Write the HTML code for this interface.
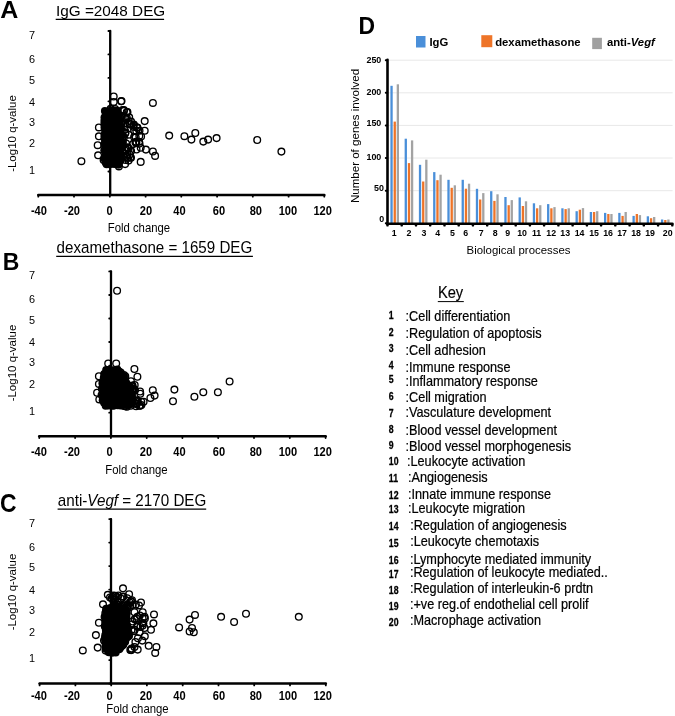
<!DOCTYPE html><html><head><meta charset="utf-8"><style>html,body{margin:0;padding:0;background:#fff;overflow:hidden;}svg{display:block;filter:blur(0.3px);}text{font-family:"Liberation Sans", sans-serif;fill:#000;}</style></head><body>
<svg width="675" height="716" viewBox="0 0 675 716">
<rect width="675" height="716" fill="#fff"/>
<g stroke="#000" stroke-linecap="round" fill="none">
<line x1="110.2" y1="30.8" x2="110.2" y2="194.9" stroke-width="2.3"/>
<line x1="38.3" y1="194.9" x2="324.3" y2="194.9" stroke-width="2.5"/>
<line x1="108.4" y1="194.9" x2="110.2" y2="194.9" stroke-width="1.8"/>
<line x1="108.4" y1="171.5" x2="110.2" y2="171.5" stroke-width="1.8"/>
<line x1="108.4" y1="148.1" x2="110.2" y2="148.1" stroke-width="1.8"/>
<line x1="108.4" y1="124.7" x2="110.2" y2="124.7" stroke-width="1.8"/>
<line x1="108.4" y1="101.3" x2="110.2" y2="101.3" stroke-width="1.8"/>
<line x1="108.4" y1="77.9" x2="110.2" y2="77.9" stroke-width="1.8"/>
<line x1="108.4" y1="54.4" x2="110.2" y2="54.4" stroke-width="1.8"/>
<line x1="108.4" y1="31.0" x2="110.2" y2="31.0" stroke-width="1.8"/>
<line x1="38.3" y1="194.9" x2="38.3" y2="196.70000000000002" stroke-width="1.8"/>
<line x1="74.0" y1="194.9" x2="74.0" y2="196.70000000000002" stroke-width="1.8"/>
<line x1="109.8" y1="194.9" x2="109.8" y2="196.70000000000002" stroke-width="1.8"/>
<line x1="145.6" y1="194.9" x2="145.6" y2="196.70000000000002" stroke-width="1.8"/>
<line x1="181.3" y1="194.9" x2="181.3" y2="196.70000000000002" stroke-width="1.8"/>
<line x1="217.1" y1="194.9" x2="217.1" y2="196.70000000000002" stroke-width="1.8"/>
<line x1="252.8" y1="194.9" x2="252.8" y2="196.70000000000002" stroke-width="1.8"/>
<line x1="288.6" y1="194.9" x2="288.6" y2="196.70000000000002" stroke-width="1.8"/>
<line x1="324.3" y1="194.9" x2="324.3" y2="196.70000000000002" stroke-width="1.8"/>
</g>
<text transform="translate(29.0,39.2) scale(0.9346,1)" font-size="11.66" font-weight="normal" text-anchor="start" >7</text>
<text transform="translate(29.0,62.7) scale(0.9346,1)" font-size="11.66" font-weight="normal" text-anchor="start" >6</text>
<text transform="translate(29.0,84) scale(0.9346,1)" font-size="11.66" font-weight="normal" text-anchor="start" >5</text>
<text transform="translate(29.0,106) scale(0.9346,1)" font-size="11.66" font-weight="normal" text-anchor="start" >4</text>
<text transform="translate(29.0,126.2) scale(0.9346,1)" font-size="11.66" font-weight="normal" text-anchor="start" >3</text>
<text transform="translate(29.0,147.1) scale(0.9346,1)" font-size="11.66" font-weight="normal" text-anchor="start" >2</text>
<text transform="translate(29.0,174.4) scale(0.9346,1)" font-size="11.66" font-weight="normal" text-anchor="start" >1</text>
<text transform="translate(38.9,214.6) scale(0.9174,1)" font-size="12.1" font-weight="bold" text-anchor="middle" >-40</text>
<text transform="translate(72,214.6) scale(0.9174,1)" font-size="12.1" font-weight="bold" text-anchor="middle" >-20</text>
<text transform="translate(109.5,214.6) scale(0.9174,1)" font-size="12.1" font-weight="bold" text-anchor="middle" >0</text>
<text transform="translate(146,214.6) scale(0.9174,1)" font-size="12.1" font-weight="bold" text-anchor="middle" >20</text>
<text transform="translate(179.5,214.6) scale(0.9174,1)" font-size="12.1" font-weight="bold" text-anchor="middle" >40</text>
<text transform="translate(218.9,214.6) scale(0.9174,1)" font-size="12.1" font-weight="bold" text-anchor="middle" >60</text>
<text transform="translate(255.8,214.6) scale(0.9174,1)" font-size="12.1" font-weight="bold" text-anchor="middle" >80</text>
<text transform="translate(287.9,214.6) scale(0.9174,1)" font-size="12.1" font-weight="bold" text-anchor="middle" >100</text>
<text transform="translate(322.7,214.6) scale(0.9174,1)" font-size="12.1" font-weight="bold" text-anchor="middle" >120</text>
<text transform="translate(107.69999999999999,231.9) scale(0.9434,1)" font-size="12.03" font-weight="normal" text-anchor="start" >Fold change</text>
<text transform="translate(15.8,133.5) rotate(-90)" font-size="11.5" text-anchor="middle">-Log10 q-value</text>
<polygon points="105,111 110,110.5 115,110.5 118,111 119,118 120,128 121,138 120.5,150 119.5,160 118,164.5 112,164.5 106,164.5 105,162 105,150 105,130 105,118" fill="#000" />
<g fill="#000">
<circle cx="104.9" cy="111.1" r="4.0"/>
<circle cx="110.7" cy="110.4" r="4.0"/>
<circle cx="115.0" cy="110.6" r="4.0"/>
<circle cx="117.5" cy="111.0" r="4.0"/>
<circle cx="118.7" cy="115.0" r="4.0"/>
<circle cx="118.4" cy="117.7" r="4.0"/>
<circle cx="118.7" cy="121.8" r="4.0"/>
<circle cx="120.0" cy="123.9" r="4.0"/>
<circle cx="120.8" cy="128.7" r="4.0"/>
<circle cx="120.6" cy="131.5" r="4.0"/>
<circle cx="120.1" cy="133.9" r="4.0"/>
<circle cx="121.0" cy="137.3" r="4.0"/>
<circle cx="120.4" cy="140.6" r="4.0"/>
<circle cx="120.0" cy="143.9" r="4.0"/>
<circle cx="120.5" cy="147.5" r="4.0"/>
<circle cx="120.5" cy="150.2" r="4.0"/>
<circle cx="120.2" cy="153.6" r="4.0"/>
<circle cx="119.8" cy="156.3" r="4.0"/>
<circle cx="120.3" cy="160.8" r="4.0"/>
<circle cx="118.5" cy="164.8" r="4.0"/>
<circle cx="114.7" cy="164.1" r="4.0"/>
<circle cx="111.7" cy="163.8" r="4.0"/>
<circle cx="109.4" cy="164.3" r="4.0"/>
<circle cx="106.6" cy="164.3" r="4.0"/>
<circle cx="105.7" cy="162.6" r="4.0"/>
<circle cx="104.2" cy="158.5" r="4.0"/>
<circle cx="105.7" cy="156.0" r="4.0"/>
<circle cx="105.8" cy="152.8" r="4.0"/>
<circle cx="104.3" cy="150.2" r="4.0"/>
<circle cx="105.4" cy="146.8" r="4.0"/>
<circle cx="104.3" cy="144.0" r="4.0"/>
<circle cx="105.7" cy="141.8" r="4.0"/>
<circle cx="104.4" cy="138.2" r="4.0"/>
<circle cx="104.4" cy="135.0" r="4.0"/>
<circle cx="105.5" cy="132.3" r="4.0"/>
<circle cx="105.1" cy="129.9" r="4.0"/>
<circle cx="104.5" cy="127.4" r="4.0"/>
<circle cx="104.4" cy="124.2" r="4.0"/>
<circle cx="104.4" cy="120.9" r="4.0"/>
<circle cx="104.5" cy="117.6" r="4.0"/>
<circle cx="105.8" cy="115.0" r="4.0"/>
</g>
<g fill="none" stroke="#000" stroke-width="1.35">
<circle cx="118.9" cy="166.4" r="3.35"/>
<circle cx="110.6" cy="108.8" r="3.35"/>
<circle cx="121.1" cy="145.1" r="3.35"/>
<circle cx="122.6" cy="137.4" r="3.35"/>
<circle cx="103.6" cy="160.0" r="3.35"/>
<circle cx="119.3" cy="120.3" r="3.35"/>
<circle cx="115.1" cy="109.0" r="3.35"/>
<circle cx="121.9" cy="130.6" r="3.35"/>
<circle cx="125.5" cy="123.2" r="3.35"/>
<circle cx="137.2" cy="127.4" r="3.35"/>
<circle cx="127.2" cy="112.3" r="3.35"/>
<circle cx="122.9" cy="142.4" r="3.35"/>
<circle cx="126.1" cy="143.5" r="3.35"/>
<circle cx="128.8" cy="134.7" r="3.35"/>
<circle cx="141.1" cy="136.5" r="3.35"/>
<circle cx="124.8" cy="117.1" r="3.35"/>
<circle cx="126.2" cy="119.2" r="3.35"/>
<circle cx="125.1" cy="164.1" r="3.35"/>
<circle cx="139.5" cy="143.6" r="3.35"/>
<circle cx="126.0" cy="149.6" r="3.35"/>
<circle cx="126.4" cy="156.6" r="3.35"/>
<circle cx="133.5" cy="125.3" r="3.35"/>
<circle cx="124.7" cy="150.5" r="3.35"/>
<circle cx="122.4" cy="121.5" r="3.35"/>
<circle cx="133.9" cy="124.5" r="3.35"/>
<circle cx="121.3" cy="123.9" r="3.35"/>
<circle cx="124.7" cy="129.8" r="3.35"/>
<circle cx="128.6" cy="160.6" r="3.35"/>
<circle cx="135.5" cy="142.5" r="3.35"/>
<circle cx="123.9" cy="110.1" r="3.35"/>
<circle cx="131.1" cy="151.1" r="3.35"/>
<circle cx="122.6" cy="140.2" r="3.35"/>
<circle cx="136.5" cy="149.5" r="3.35"/>
<circle cx="128.4" cy="148.4" r="3.35"/>
<circle cx="129.8" cy="154.6" r="3.35"/>
<circle cx="139.1" cy="141.8" r="3.35"/>
<circle cx="134.1" cy="130.6" r="3.35"/>
<circle cx="133.2" cy="143.9" r="3.35"/>
<circle cx="122.7" cy="145.7" r="3.35"/>
<circle cx="136.3" cy="130.9" r="3.35"/>
<circle cx="136.4" cy="142.3" r="3.35"/>
<circle cx="130.3" cy="157.5" r="3.35"/>
<circle cx="122.8" cy="152.3" r="3.35"/>
<circle cx="121.6" cy="143.5" r="3.35"/>
<circle cx="131.1" cy="121.6" r="3.35"/>
<circle cx="135.7" cy="137.3" r="3.35"/>
<circle cx="127.3" cy="148.0" r="3.35"/>
<circle cx="125.3" cy="118.0" r="3.35"/>
<circle cx="127.9" cy="147.3" r="3.35"/>
<circle cx="125.2" cy="133.4" r="3.35"/>
<circle cx="139.5" cy="130.7" r="3.35"/>
<circle cx="133.2" cy="126.7" r="3.35"/>
<circle cx="123.9" cy="137.3" r="3.35"/>
<circle cx="126.8" cy="118.0" r="3.35"/>
<circle cx="130.5" cy="124.2" r="3.35"/>
<circle cx="125.5" cy="132.4" r="3.35"/>
<circle cx="134.1" cy="137.1" r="3.35"/>
<circle cx="127.6" cy="157.5" r="3.35"/>
<circle cx="122.6" cy="109.9" r="3.35"/>
<circle cx="135.9" cy="141.7" r="3.35"/>
<circle cx="127.5" cy="154.7" r="3.35"/>
<circle cx="121.4" cy="116.0" r="3.35"/>
<circle cx="124.0" cy="110.8" r="3.35"/>
<circle cx="152.9" cy="102.9" r="3.35"/>
<circle cx="144.7" cy="121.1" r="3.35"/>
<circle cx="144.7" cy="130.7" r="3.35"/>
<circle cx="169.2" cy="135.6" r="3.35"/>
<circle cx="184.4" cy="136.2" r="3.35"/>
<circle cx="195.3" cy="133.0" r="3.35"/>
<circle cx="191.4" cy="139.6" r="3.35"/>
<circle cx="203.3" cy="141.6" r="3.35"/>
<circle cx="208.1" cy="139.6" r="3.35"/>
<circle cx="216.6" cy="138.1" r="3.35"/>
<circle cx="257.2" cy="140.0" r="3.35"/>
<circle cx="281.4" cy="151.6" r="3.35"/>
<circle cx="140.7" cy="161.9" r="3.35"/>
<circle cx="145.9" cy="149.6" r="3.35"/>
<circle cx="152.9" cy="151.5" r="3.35"/>
<circle cx="155.1" cy="155.9" r="3.35"/>
<circle cx="140.7" cy="147.8" r="3.35"/>
<circle cx="139.3" cy="135.9" r="3.35"/>
<circle cx="126.7" cy="112.2" r="3.35"/>
<circle cx="121.5" cy="101.1" r="3.35"/>
<circle cx="129.6" cy="124.0" r="3.35"/>
<circle cx="137.5" cy="127.8" r="3.35"/>
<circle cx="81.4" cy="161.2" r="3.35"/>
<circle cx="113.7" cy="96.5" r="3.35"/>
<circle cx="113.7" cy="101.9" r="3.35"/>
<circle cx="121.1" cy="101.3" r="3.35"/>
<circle cx="127.4" cy="112.0" r="3.35"/>
<circle cx="129.2" cy="117.3" r="3.35"/>
<circle cx="129.8" cy="123.8" r="3.35"/>
<circle cx="136.9" cy="127.4" r="3.35"/>
<circle cx="131.0" cy="157.7" r="3.35"/>
<circle cx="125.6" cy="160.0" r="3.35"/>
<circle cx="98.9" cy="127.4" r="3.35"/>
<circle cx="98.9" cy="136.3" r="3.35"/>
<circle cx="97.7" cy="145.2" r="3.35"/>
<circle cx="98.1" cy="155.3" r="3.35"/>
</g>
<text transform="translate(0.3,17.7) scale(1.087,1)" font-size="23.0" font-weight="bold" text-anchor="start" >A</text>
<g stroke="#000" stroke-linecap="round" fill="none">
<line x1="111" y1="271.4" x2="111" y2="436.2" stroke-width="2.3"/>
<line x1="39.3" y1="436.2" x2="325.6" y2="436.2" stroke-width="2.5"/>
<line x1="109.2" y1="436.2" x2="111" y2="436.2" stroke-width="1.8"/>
<line x1="109.2" y1="412.7" x2="111" y2="412.7" stroke-width="1.8"/>
<line x1="109.2" y1="389.1" x2="111" y2="389.1" stroke-width="1.8"/>
<line x1="109.2" y1="365.6" x2="111" y2="365.6" stroke-width="1.8"/>
<line x1="109.2" y1="342.0" x2="111" y2="342.0" stroke-width="1.8"/>
<line x1="109.2" y1="318.5" x2="111" y2="318.5" stroke-width="1.8"/>
<line x1="109.2" y1="295.0" x2="111" y2="295.0" stroke-width="1.8"/>
<line x1="109.2" y1="271.4" x2="111" y2="271.4" stroke-width="1.8"/>
<line x1="39.3" y1="436.2" x2="39.3" y2="438.0" stroke-width="1.8"/>
<line x1="75.1" y1="436.2" x2="75.1" y2="438.0" stroke-width="1.8"/>
<line x1="110.9" y1="436.2" x2="110.9" y2="438.0" stroke-width="1.8"/>
<line x1="146.7" y1="436.2" x2="146.7" y2="438.0" stroke-width="1.8"/>
<line x1="182.4" y1="436.2" x2="182.4" y2="438.0" stroke-width="1.8"/>
<line x1="218.2" y1="436.2" x2="218.2" y2="438.0" stroke-width="1.8"/>
<line x1="254.0" y1="436.2" x2="254.0" y2="438.0" stroke-width="1.8"/>
<line x1="289.8" y1="436.2" x2="289.8" y2="438.0" stroke-width="1.8"/>
<line x1="325.6" y1="436.2" x2="325.6" y2="438.0" stroke-width="1.8"/>
</g>
<text transform="translate(29.0,279) scale(0.9346,1)" font-size="11.66" font-weight="normal" text-anchor="start" >7</text>
<text transform="translate(29.0,302.8) scale(0.9346,1)" font-size="11.66" font-weight="normal" text-anchor="start" >6</text>
<text transform="translate(29.0,323.8) scale(0.9346,1)" font-size="11.66" font-weight="normal" text-anchor="start" >5</text>
<text transform="translate(29.0,345.5) scale(0.9346,1)" font-size="11.66" font-weight="normal" text-anchor="start" >4</text>
<text transform="translate(29.0,366) scale(0.9346,1)" font-size="11.66" font-weight="normal" text-anchor="start" >3</text>
<text transform="translate(29.0,388) scale(0.9346,1)" font-size="11.66" font-weight="normal" text-anchor="start" >2</text>
<text transform="translate(29.0,414.6) scale(0.9346,1)" font-size="11.66" font-weight="normal" text-anchor="start" >1</text>
<text transform="translate(38.9,456.2) scale(0.9174,1)" font-size="12.1" font-weight="bold" text-anchor="middle" >-40</text>
<text transform="translate(72,456.2) scale(0.9174,1)" font-size="12.1" font-weight="bold" text-anchor="middle" >-20</text>
<text transform="translate(109.5,456.2) scale(0.9174,1)" font-size="12.1" font-weight="bold" text-anchor="middle" >0</text>
<text transform="translate(146,456.2) scale(0.9174,1)" font-size="12.1" font-weight="bold" text-anchor="middle" >20</text>
<text transform="translate(179.5,456.2) scale(0.9174,1)" font-size="12.1" font-weight="bold" text-anchor="middle" >40</text>
<text transform="translate(218.9,456.2) scale(0.9174,1)" font-size="12.1" font-weight="bold" text-anchor="middle" >60</text>
<text transform="translate(255.8,456.2) scale(0.9174,1)" font-size="12.1" font-weight="bold" text-anchor="middle" >80</text>
<text transform="translate(287.9,456.2) scale(0.9174,1)" font-size="12.1" font-weight="bold" text-anchor="middle" >100</text>
<text transform="translate(322.7,456.2) scale(0.9174,1)" font-size="12.1" font-weight="bold" text-anchor="middle" >120</text>
<text transform="translate(105.19999999999999,474.1) scale(0.9434,1)" font-size="12.03" font-weight="normal" text-anchor="start" >Fold change</text>
<text transform="translate(15.6,363) rotate(-90)" font-size="11.5" text-anchor="middle">-Log10 q-value</text>
<polygon points="106,370 112,369.5 117,370 121,374 124,379 127,385 130,391 132.5,397 132,403 126,405 106,405 103.5,403 103,395 103,381 103.5,374" fill="#000" />
<g fill="#000">
<circle cx="106.2" cy="369.9" r="4.0"/>
<circle cx="109.2" cy="370.0" r="4.0"/>
<circle cx="112.5" cy="370.2" r="4.0"/>
<circle cx="117.3" cy="369.5" r="4.0"/>
<circle cx="119.0" cy="371.5" r="4.0"/>
<circle cx="120.2" cy="374.0" r="4.0"/>
<circle cx="122.8" cy="376.0" r="4.0"/>
<circle cx="123.6" cy="378.8" r="4.0"/>
<circle cx="125.8" cy="382.0" r="4.0"/>
<circle cx="127.2" cy="385.4" r="4.0"/>
<circle cx="128.3" cy="388.5" r="4.0"/>
<circle cx="130.6" cy="390.3" r="4.0"/>
<circle cx="131.9" cy="394.4" r="4.0"/>
<circle cx="131.9" cy="396.9" r="4.0"/>
<circle cx="132.5" cy="400.7" r="4.0"/>
<circle cx="131.8" cy="403.1" r="4.0"/>
<circle cx="129.6" cy="404.5" r="4.0"/>
<circle cx="126.7" cy="404.9" r="4.0"/>
<circle cx="123.4" cy="404.5" r="4.0"/>
<circle cx="120.6" cy="405.5" r="4.0"/>
<circle cx="117.7" cy="405.3" r="4.0"/>
<circle cx="114.1" cy="405.6" r="4.0"/>
<circle cx="112.5" cy="405.8" r="4.0"/>
<circle cx="108.9" cy="405.5" r="4.0"/>
<circle cx="105.7" cy="405.7" r="4.0"/>
<circle cx="104.1" cy="402.8" r="4.0"/>
<circle cx="102.7" cy="400.2" r="4.0"/>
<circle cx="103.2" cy="398.1" r="4.0"/>
<circle cx="103.0" cy="394.2" r="4.0"/>
<circle cx="103.5" cy="391.5" r="4.0"/>
<circle cx="103.5" cy="388.9" r="4.0"/>
<circle cx="102.7" cy="387.1" r="4.0"/>
<circle cx="102.4" cy="383.2" r="4.0"/>
<circle cx="103.0" cy="381.4" r="4.0"/>
<circle cx="103.8" cy="377.8" r="4.0"/>
<circle cx="104.2" cy="374.0" r="4.0"/>
</g>
<g fill="none" stroke="#000" stroke-width="1.35">
<circle cx="120.7" cy="372.4" r="3.35"/>
<circle cx="133.7" cy="401.7" r="3.35"/>
<circle cx="101.6" cy="395.0" r="3.35"/>
<circle cx="124.0" cy="406.0" r="3.35"/>
<circle cx="129.9" cy="388.7" r="3.35"/>
<circle cx="130.6" cy="405.8" r="3.35"/>
<circle cx="101.9" cy="389.1" r="3.35"/>
<circle cx="140.1" cy="391.5" r="3.35"/>
<circle cx="126.8" cy="384.0" r="3.35"/>
<circle cx="140.1" cy="405.8" r="3.35"/>
<circle cx="124.2" cy="403.7" r="3.35"/>
<circle cx="132.4" cy="389.1" r="3.35"/>
<circle cx="129.0" cy="401.6" r="3.35"/>
<circle cx="133.1" cy="388.6" r="3.35"/>
<circle cx="132.5" cy="385.4" r="3.35"/>
<circle cx="125.7" cy="387.9" r="3.35"/>
<circle cx="122.2" cy="386.2" r="3.35"/>
<circle cx="139.4" cy="405.8" r="3.35"/>
<circle cx="130.9" cy="381.3" r="3.35"/>
<circle cx="123.8" cy="394.0" r="3.35"/>
<circle cx="123.9" cy="377.5" r="3.35"/>
<circle cx="127.9" cy="394.0" r="3.35"/>
<circle cx="121.6" cy="398.7" r="3.35"/>
<circle cx="122.1" cy="389.4" r="3.35"/>
<circle cx="125.3" cy="376.3" r="3.35"/>
<circle cx="132.3" cy="386.3" r="3.35"/>
<circle cx="128.4" cy="385.4" r="3.35"/>
<circle cx="124.1" cy="394.5" r="3.35"/>
<circle cx="135.0" cy="390.2" r="3.35"/>
<circle cx="140.3" cy="393.7" r="3.35"/>
<circle cx="137.5" cy="402.0" r="3.35"/>
<circle cx="126.9" cy="406.8" r="3.35"/>
<circle cx="125.0" cy="398.5" r="3.35"/>
<circle cx="129.1" cy="396.8" r="3.35"/>
<circle cx="136.1" cy="406.3" r="3.35"/>
<circle cx="131.6" cy="399.8" r="3.35"/>
<circle cx="131.6" cy="396.8" r="3.35"/>
<circle cx="132.8" cy="389.6" r="3.35"/>
<circle cx="123.6" cy="376.6" r="3.35"/>
<circle cx="130.6" cy="400.1" r="3.35"/>
<circle cx="127.2" cy="387.6" r="3.35"/>
<circle cx="131.9" cy="386.1" r="3.35"/>
<circle cx="136.5" cy="403.5" r="3.35"/>
<circle cx="123.5" cy="387.1" r="3.35"/>
<circle cx="123.9" cy="374.9" r="3.35"/>
<circle cx="141.3" cy="401.7" r="3.35"/>
<circle cx="136.6" cy="404.2" r="3.35"/>
<circle cx="134.7" cy="385.0" r="3.35"/>
<circle cx="134.0" cy="389.2" r="3.35"/>
<circle cx="143.6" cy="401.8" r="3.35"/>
<circle cx="125.5" cy="406.3" r="3.35"/>
<circle cx="137.6" cy="400.7" r="3.35"/>
<circle cx="141.4" cy="405.0" r="3.35"/>
<circle cx="136.4" cy="400.2" r="3.35"/>
<circle cx="127.5" cy="387.7" r="3.35"/>
<circle cx="117.1" cy="290.7" r="3.35"/>
<circle cx="134.4" cy="369.0" r="3.35"/>
<circle cx="137.4" cy="376.7" r="3.35"/>
<circle cx="152.8" cy="390.3" r="3.35"/>
<circle cx="150.4" cy="398.0" r="3.35"/>
<circle cx="154.6" cy="395.6" r="3.35"/>
<circle cx="174.4" cy="389.6" r="3.35"/>
<circle cx="173.0" cy="401.2" r="3.35"/>
<circle cx="194.4" cy="396.7" r="3.35"/>
<circle cx="203.3" cy="392.3" r="3.35"/>
<circle cx="217.9" cy="392.3" r="3.35"/>
<circle cx="229.6" cy="381.5" r="3.35"/>
<circle cx="108.2" cy="363.4" r="3.35"/>
<circle cx="116.2" cy="363.4" r="3.35"/>
<circle cx="98.9" cy="376.3" r="3.35"/>
<circle cx="98.9" cy="383.9" r="3.35"/>
<circle cx="97.1" cy="392.8" r="3.35"/>
<circle cx="99.3" cy="399.4" r="3.35"/>
</g>
<text transform="translate(2.8,270.2) scale(0.9346,1)" font-size="24.61" font-weight="bold" text-anchor="start" >B</text>
<g stroke="#000" stroke-linecap="round" fill="none">
<line x1="111" y1="519.1" x2="111" y2="683.6" stroke-width="2.3"/>
<line x1="39.6" y1="683.6" x2="325.8" y2="683.6" stroke-width="2.5"/>
<line x1="109.2" y1="683.6" x2="111" y2="683.6" stroke-width="1.8"/>
<line x1="109.2" y1="660.1" x2="111" y2="660.1" stroke-width="1.8"/>
<line x1="109.2" y1="636.6" x2="111" y2="636.6" stroke-width="1.8"/>
<line x1="109.2" y1="613.1" x2="111" y2="613.1" stroke-width="1.8"/>
<line x1="109.2" y1="589.6" x2="111" y2="589.6" stroke-width="1.8"/>
<line x1="109.2" y1="566.1" x2="111" y2="566.1" stroke-width="1.8"/>
<line x1="109.2" y1="542.6" x2="111" y2="542.6" stroke-width="1.8"/>
<line x1="109.2" y1="519.1" x2="111" y2="519.1" stroke-width="1.8"/>
<line x1="39.6" y1="683.6" x2="39.6" y2="685.4" stroke-width="1.8"/>
<line x1="75.4" y1="683.6" x2="75.4" y2="685.4" stroke-width="1.8"/>
<line x1="111.2" y1="683.6" x2="111.2" y2="685.4" stroke-width="1.8"/>
<line x1="146.9" y1="683.6" x2="146.9" y2="685.4" stroke-width="1.8"/>
<line x1="182.7" y1="683.6" x2="182.7" y2="685.4" stroke-width="1.8"/>
<line x1="218.5" y1="683.6" x2="218.5" y2="685.4" stroke-width="1.8"/>
<line x1="254.2" y1="683.6" x2="254.2" y2="685.4" stroke-width="1.8"/>
<line x1="290.0" y1="683.6" x2="290.0" y2="685.4" stroke-width="1.8"/>
<line x1="325.8" y1="683.6" x2="325.8" y2="685.4" stroke-width="1.8"/>
</g>
<text transform="translate(29.0,527.4) scale(0.9346,1)" font-size="11.66" font-weight="normal" text-anchor="start" >7</text>
<text transform="translate(29.0,550.9) scale(0.9346,1)" font-size="11.66" font-weight="normal" text-anchor="start" >6</text>
<text transform="translate(29.0,571) scale(0.9346,1)" font-size="11.66" font-weight="normal" text-anchor="start" >5</text>
<text transform="translate(29.0,594.4) scale(0.9346,1)" font-size="11.66" font-weight="normal" text-anchor="start" >4</text>
<text transform="translate(29.0,614.4) scale(0.9346,1)" font-size="11.66" font-weight="normal" text-anchor="start" >3</text>
<text transform="translate(29.0,636.2) scale(0.9346,1)" font-size="11.66" font-weight="normal" text-anchor="start" >2</text>
<text transform="translate(29.0,662.4) scale(0.9346,1)" font-size="11.66" font-weight="normal" text-anchor="start" >1</text>
<text transform="translate(38.9,700.4) scale(0.9174,1)" font-size="12.1" font-weight="bold" text-anchor="middle" >-40</text>
<text transform="translate(72,700.4) scale(0.9174,1)" font-size="12.1" font-weight="bold" text-anchor="middle" >-20</text>
<text transform="translate(109.5,700.4) scale(0.9174,1)" font-size="12.1" font-weight="bold" text-anchor="middle" >0</text>
<text transform="translate(146,700.4) scale(0.9174,1)" font-size="12.1" font-weight="bold" text-anchor="middle" >20</text>
<text transform="translate(179.5,700.4) scale(0.9174,1)" font-size="12.1" font-weight="bold" text-anchor="middle" >40</text>
<text transform="translate(218.9,700.4) scale(0.9174,1)" font-size="12.1" font-weight="bold" text-anchor="middle" >60</text>
<text transform="translate(255.8,700.4) scale(0.9174,1)" font-size="12.1" font-weight="bold" text-anchor="middle" >80</text>
<text transform="translate(287.9,700.4) scale(0.9174,1)" font-size="12.1" font-weight="bold" text-anchor="middle" >100</text>
<text transform="translate(322.7,700.4) scale(0.9174,1)" font-size="12.1" font-weight="bold" text-anchor="middle" >120</text>
<text transform="translate(106.19999999999999,712.7) scale(0.9434,1)" font-size="12.03" font-weight="normal" text-anchor="start" >Fold change</text>
<text transform="translate(15.8,592) rotate(-90)" font-size="11.5" text-anchor="middle">-Log10 q-value</text>
<polygon points="107,609 112,607 118,607 123,609 126,614 127,625 127,636 124,644 119,650 115,652.5 109,652.5 106,649 105.5,640 105.5,620 106,612" fill="#000" />
<g fill="#000">
<circle cx="106.2" cy="608.8" r="4.0"/>
<circle cx="109.7" cy="608.2" r="4.0"/>
<circle cx="111.6" cy="607.7" r="4.0"/>
<circle cx="115.3" cy="606.7" r="4.0"/>
<circle cx="118.3" cy="607.1" r="4.0"/>
<circle cx="120.6" cy="607.8" r="4.0"/>
<circle cx="123.8" cy="609.2" r="4.0"/>
<circle cx="124.8" cy="611.9" r="4.0"/>
<circle cx="126.8" cy="613.2" r="4.0"/>
<circle cx="126.4" cy="617.1" r="4.0"/>
<circle cx="126.1" cy="619.3" r="4.0"/>
<circle cx="126.0" cy="621.8" r="4.0"/>
<circle cx="126.8" cy="624.4" r="4.0"/>
<circle cx="126.6" cy="628.4" r="4.0"/>
<circle cx="127.1" cy="630.5" r="4.0"/>
<circle cx="127.7" cy="633.4" r="4.0"/>
<circle cx="127.8" cy="636.2" r="4.0"/>
<circle cx="126.5" cy="638.0" r="4.0"/>
<circle cx="125.2" cy="641.7" r="4.0"/>
<circle cx="123.3" cy="644.7" r="4.0"/>
<circle cx="121.8" cy="646.0" r="4.0"/>
<circle cx="120.1" cy="648.0" r="4.0"/>
<circle cx="119.2" cy="649.3" r="4.0"/>
<circle cx="115.7" cy="652.4" r="4.0"/>
<circle cx="112.0" cy="652.7" r="4.0"/>
<circle cx="108.8" cy="652.2" r="4.0"/>
<circle cx="106.2" cy="649.1" r="4.0"/>
<circle cx="105.5" cy="646.3" r="4.0"/>
<circle cx="105.3" cy="642.2" r="4.0"/>
<circle cx="105.1" cy="639.3" r="4.0"/>
<circle cx="105.0" cy="637.6" r="4.0"/>
<circle cx="105.3" cy="634.9" r="4.0"/>
<circle cx="105.9" cy="630.7" r="4.0"/>
<circle cx="106.3" cy="629.3" r="4.0"/>
<circle cx="104.8" cy="626.4" r="4.0"/>
<circle cx="105.4" cy="622.8" r="4.0"/>
<circle cx="106.3" cy="619.6" r="4.0"/>
<circle cx="105.7" cy="618.0" r="4.0"/>
<circle cx="106.2" cy="614.6" r="4.0"/>
<circle cx="106.8" cy="612.5" r="4.0"/>
</g>
<g fill="none" stroke="#000" stroke-width="1.35">
<circle cx="105.3" cy="613.3" r="3.35"/>
<circle cx="125.6" cy="610.5" r="3.35"/>
<circle cx="115.3" cy="605.1" r="3.35"/>
<circle cx="105.6" cy="650.6" r="3.35"/>
<circle cx="104.0" cy="640.4" r="3.35"/>
<circle cx="106.0" cy="611.1" r="3.35"/>
<circle cx="128.2" cy="628.4" r="3.35"/>
<circle cx="104.6" cy="616.9" r="3.35"/>
<circle cx="114.9" cy="595.9" r="3.35"/>
<circle cx="115.1" cy="595.7" r="3.35"/>
<circle cx="116.4" cy="604.4" r="3.35"/>
<circle cx="122.0" cy="606.0" r="3.35"/>
<circle cx="115.1" cy="607.1" r="3.35"/>
<circle cx="113.3" cy="595.4" r="3.35"/>
<circle cx="118.0" cy="602.6" r="3.35"/>
<circle cx="113.7" cy="602.6" r="3.35"/>
<circle cx="127.2" cy="598.2" r="3.35"/>
<circle cx="121.2" cy="606.8" r="3.35"/>
<circle cx="123.5" cy="596.6" r="3.35"/>
<circle cx="113.0" cy="597.5" r="3.35"/>
<circle cx="129.8" cy="602.5" r="3.35"/>
<circle cx="122.3" cy="596.7" r="3.35"/>
<circle cx="123.1" cy="604.9" r="3.35"/>
<circle cx="111.6" cy="598.3" r="3.35"/>
<circle cx="124.9" cy="610.3" r="3.35"/>
<circle cx="110.0" cy="597.5" r="3.35"/>
<circle cx="114.9" cy="599.4" r="3.35"/>
<circle cx="118.4" cy="595.5" r="3.35"/>
<circle cx="127.7" cy="608.2" r="3.35"/>
<circle cx="117.2" cy="608.6" r="3.35"/>
<circle cx="126.9" cy="607.6" r="3.35"/>
<circle cx="117.1" cy="607.2" r="3.35"/>
<circle cx="115.8" cy="595.9" r="3.35"/>
<circle cx="109.8" cy="608.9" r="3.35"/>
<circle cx="120.9" cy="598.5" r="3.35"/>
<circle cx="125.0" cy="608.7" r="3.35"/>
<circle cx="128.2" cy="636.0" r="3.35"/>
<circle cx="137.4" cy="625.4" r="3.35"/>
<circle cx="131.5" cy="629.9" r="3.35"/>
<circle cx="133.9" cy="631.2" r="3.35"/>
<circle cx="142.8" cy="625.5" r="3.35"/>
<circle cx="131.1" cy="650.1" r="3.35"/>
<circle cx="137.9" cy="638.2" r="3.35"/>
<circle cx="135.4" cy="642.0" r="3.35"/>
<circle cx="131.5" cy="648.5" r="3.35"/>
<circle cx="129.0" cy="636.1" r="3.35"/>
<circle cx="131.5" cy="649.8" r="3.35"/>
<circle cx="131.4" cy="624.3" r="3.35"/>
<circle cx="137.7" cy="649.6" r="3.35"/>
<circle cx="139.8" cy="615.4" r="3.35"/>
<circle cx="134.5" cy="612.2" r="3.35"/>
<circle cx="135.9" cy="604.6" r="3.35"/>
<circle cx="139.6" cy="632.2" r="3.35"/>
<circle cx="142.3" cy="640.6" r="3.35"/>
<circle cx="132.5" cy="621.5" r="3.35"/>
<circle cx="127.6" cy="632.5" r="3.35"/>
<circle cx="128.1" cy="604.9" r="3.35"/>
<circle cx="134.5" cy="647.0" r="3.35"/>
<circle cx="142.7" cy="612.2" r="3.35"/>
<circle cx="125.3" cy="608.7" r="3.35"/>
<circle cx="130.8" cy="601.2" r="3.35"/>
<circle cx="143.4" cy="623.3" r="3.35"/>
<circle cx="137.4" cy="616.8" r="3.35"/>
<circle cx="136.5" cy="618.4" r="3.35"/>
<circle cx="130.3" cy="605.8" r="3.35"/>
<circle cx="131.2" cy="601.4" r="3.35"/>
<circle cx="139.0" cy="605.4" r="3.35"/>
<circle cx="142.8" cy="623.2" r="3.35"/>
<circle cx="140.4" cy="626.9" r="3.35"/>
<circle cx="144.9" cy="618.6" r="3.35"/>
<circle cx="134.6" cy="619.3" r="3.35"/>
<circle cx="142.6" cy="618.3" r="3.35"/>
<circle cx="127.1" cy="626.8" r="3.35"/>
<circle cx="132.0" cy="600.2" r="3.35"/>
<circle cx="132.7" cy="604.9" r="3.35"/>
<circle cx="134.7" cy="629.8" r="3.35"/>
<circle cx="124.6" cy="619.9" r="3.35"/>
<circle cx="124.2" cy="606.0" r="3.35"/>
<circle cx="123.0" cy="588.3" r="3.35"/>
<circle cx="107.8" cy="594.8" r="3.35"/>
<circle cx="141.0" cy="602.5" r="3.35"/>
<circle cx="154.0" cy="614.4" r="3.35"/>
<circle cx="153.4" cy="623.3" r="3.35"/>
<circle cx="151.0" cy="629.8" r="3.35"/>
<circle cx="144.5" cy="628.0" r="3.35"/>
<circle cx="144.8" cy="636.3" r="3.35"/>
<circle cx="137.4" cy="626.8" r="3.35"/>
<circle cx="144.5" cy="616.7" r="3.35"/>
<circle cx="148.7" cy="645.8" r="3.35"/>
<circle cx="156.4" cy="647.0" r="3.35"/>
<circle cx="155.2" cy="652.9" r="3.35"/>
<circle cx="95.9" cy="635.1" r="3.35"/>
<circle cx="97.7" cy="647.6" r="3.35"/>
<circle cx="98.9" cy="622.7" r="3.35"/>
<circle cx="103.0" cy="604.3" r="3.35"/>
<circle cx="130.3" cy="650.0" r="3.35"/>
<circle cx="129.1" cy="594.2" r="3.35"/>
<circle cx="179.1" cy="627.4" r="3.35"/>
<circle cx="189.6" cy="619.6" r="3.35"/>
<circle cx="195.0" cy="614.9" r="3.35"/>
<circle cx="192.0" cy="627.9" r="3.35"/>
<circle cx="189.6" cy="631.5" r="3.35"/>
<circle cx="193.8" cy="632.2" r="3.35"/>
<circle cx="221.1" cy="616.8" r="3.35"/>
<circle cx="234.1" cy="622.0" r="3.35"/>
<circle cx="246.0" cy="613.7" r="3.35"/>
<circle cx="298.8" cy="616.8" r="3.35"/>
<circle cx="82.8" cy="650.4" r="3.35"/>
</g>
<text transform="translate(0.0,511.9) scale(0.9009,1)" font-size="25.42" font-weight="bold" text-anchor="start" >C</text>
<text x="56.0" y="15.6" font-size="15.3" font-weight="normal" text-anchor="start" >IgG =2048 DEG</text>
<line x1="55.7" y1="19.3" x2="164.1" y2="19.3" stroke="#000" stroke-width="1.2"/>
<text transform="translate(56.6,253) scale(0.9524,1)" font-size="15.91" font-weight="normal" text-anchor="start" >dexamethasone = 1659 DEG</text>
<line x1="56.2" y1="256.4" x2="252.9" y2="256.4" stroke="#000" stroke-width="1.2"/>
<text transform="translate(57.8,505.6) scale(0.9524,1)" font-size="15.96" font-weight="normal" text-anchor="start" >anti-<tspan font-style="italic">Vegf</tspan> = 2170 DEG</text>
<line x1="57.6" y1="509.2" x2="206.2" y2="509.2" stroke="#000" stroke-width="1.2"/>
<line x1="388" y1="190.7" x2="672.6" y2="190.7" stroke="#e8e8e8" stroke-width="1"/>
<line x1="388" y1="158.0" x2="672.6" y2="158.0" stroke="#e8e8e8" stroke-width="1"/>
<line x1="388" y1="125.4" x2="672.6" y2="125.4" stroke="#e8e8e8" stroke-width="1"/>
<line x1="388" y1="92.8" x2="672.6" y2="92.8" stroke="#e8e8e8" stroke-width="1"/>
<line x1="388" y1="60.2" x2="672.6" y2="60.2" stroke="#e8e8e8" stroke-width="1"/>
<rect x="390.40" y="85.8" width="2.3" height="137.5" fill="#4a8fd9"/>
<rect x="393.60" y="121.6" width="2.3" height="101.7" fill="#ee7428"/>
<rect x="396.70" y="84.3" width="2.3" height="139.0" fill="#a3a3a3"/>
<rect x="404.64" y="138.7" width="2.3" height="84.6" fill="#4a8fd9"/>
<rect x="407.84" y="163.1" width="2.3" height="60.2" fill="#ee7428"/>
<rect x="410.94" y="140.4" width="2.3" height="82.9" fill="#a3a3a3"/>
<rect x="418.88" y="164.8" width="2.3" height="58.5" fill="#4a8fd9"/>
<rect x="422.08" y="181.5" width="2.3" height="41.8" fill="#ee7428"/>
<rect x="425.18" y="159.7" width="2.3" height="63.6" fill="#a3a3a3"/>
<rect x="433.12" y="172.1" width="2.3" height="51.2" fill="#4a8fd9"/>
<rect x="436.32" y="180.2" width="2.3" height="43.1" fill="#ee7428"/>
<rect x="439.42" y="174.7" width="2.3" height="48.6" fill="#a3a3a3"/>
<rect x="447.36" y="179.8" width="2.3" height="43.5" fill="#4a8fd9"/>
<rect x="450.56" y="187.8" width="2.3" height="35.5" fill="#ee7428"/>
<rect x="453.66" y="185.3" width="2.3" height="38.0" fill="#a3a3a3"/>
<rect x="461.60" y="179.8" width="2.3" height="43.5" fill="#4a8fd9"/>
<rect x="464.80" y="188.7" width="2.3" height="34.6" fill="#ee7428"/>
<rect x="467.90" y="183.7" width="2.3" height="39.6" fill="#a3a3a3"/>
<rect x="475.84" y="188.8" width="2.3" height="34.5" fill="#4a8fd9"/>
<rect x="479.04" y="199.5" width="2.3" height="23.8" fill="#ee7428"/>
<rect x="482.14" y="193.1" width="2.3" height="30.2" fill="#a3a3a3"/>
<rect x="490.08" y="191.2" width="2.3" height="32.1" fill="#4a8fd9"/>
<rect x="493.28" y="200.9" width="2.3" height="22.4" fill="#ee7428"/>
<rect x="496.38" y="194.3" width="2.3" height="29.0" fill="#a3a3a3"/>
<rect x="504.32" y="197.0" width="2.3" height="26.3" fill="#4a8fd9"/>
<rect x="507.52" y="205.2" width="2.3" height="18.1" fill="#ee7428"/>
<rect x="510.62" y="200.1" width="2.3" height="23.2" fill="#a3a3a3"/>
<rect x="518.56" y="197.4" width="2.3" height="25.9" fill="#4a8fd9"/>
<rect x="521.76" y="206.0" width="2.3" height="17.3" fill="#ee7428"/>
<rect x="524.86" y="201.3" width="2.3" height="22.0" fill="#a3a3a3"/>
<rect x="532.80" y="203.3" width="2.3" height="20.0" fill="#4a8fd9"/>
<rect x="536.00" y="208.3" width="2.3" height="15.0" fill="#ee7428"/>
<rect x="539.10" y="205.2" width="2.3" height="18.1" fill="#a3a3a3"/>
<rect x="547.04" y="204.1" width="2.3" height="19.2" fill="#4a8fd9"/>
<rect x="550.24" y="208.3" width="2.3" height="15.0" fill="#ee7428"/>
<rect x="553.34" y="207.1" width="2.3" height="16.2" fill="#a3a3a3"/>
<rect x="561.28" y="208.3" width="2.3" height="15.0" fill="#4a8fd9"/>
<rect x="564.48" y="209.1" width="2.3" height="14.2" fill="#ee7428"/>
<rect x="567.58" y="208.3" width="2.3" height="15.0" fill="#a3a3a3"/>
<rect x="575.52" y="211.2" width="2.3" height="12.1" fill="#4a8fd9"/>
<rect x="578.72" y="209.7" width="2.3" height="13.6" fill="#ee7428"/>
<rect x="581.82" y="208.1" width="2.3" height="15.2" fill="#a3a3a3"/>
<rect x="589.76" y="212.0" width="2.3" height="11.3" fill="#4a8fd9"/>
<rect x="592.96" y="212.0" width="2.3" height="11.3" fill="#ee7428"/>
<rect x="596.06" y="211.2" width="2.3" height="12.1" fill="#a3a3a3"/>
<rect x="604.00" y="212.9" width="2.3" height="10.4" fill="#4a8fd9"/>
<rect x="607.20" y="214.0" width="2.3" height="9.3" fill="#ee7428"/>
<rect x="610.30" y="214.0" width="2.3" height="9.3" fill="#a3a3a3"/>
<rect x="618.24" y="212.9" width="2.3" height="10.4" fill="#4a8fd9"/>
<rect x="621.44" y="215.9" width="2.3" height="7.4" fill="#ee7428"/>
<rect x="624.54" y="212.0" width="2.3" height="11.3" fill="#a3a3a3"/>
<rect x="632.48" y="215.9" width="2.3" height="7.4" fill="#4a8fd9"/>
<rect x="635.68" y="214.0" width="2.3" height="9.3" fill="#ee7428"/>
<rect x="638.78" y="215.1" width="2.3" height="8.2" fill="#a3a3a3"/>
<rect x="646.72" y="216.3" width="2.3" height="7.0" fill="#4a8fd9"/>
<rect x="649.92" y="218.2" width="2.3" height="5.1" fill="#ee7428"/>
<rect x="653.02" y="217.0" width="2.3" height="6.3" fill="#a3a3a3"/>
<rect x="660.96" y="219.5" width="2.3" height="3.8" fill="#4a8fd9"/>
<rect x="664.16" y="220.0" width="2.3" height="3.3" fill="#ee7428"/>
<rect x="667.26" y="219.5" width="2.3" height="3.8" fill="#a3a3a3"/>
<g stroke="#000" stroke-linecap="round">
<line x1="387.5" y1="59.8" x2="387.5" y2="224" stroke-width="2.6"/>
<line x1="387" y1="223.7" x2="672.4" y2="223.7" stroke-width="2.6"/>
<line x1="387.5" y1="224.2" x2="387.5" y2="225.4" stroke-width="2.4"/>
<line x1="401.7" y1="224.2" x2="401.7" y2="225.4" stroke-width="2.4"/>
<line x1="416.0" y1="224.2" x2="416.0" y2="225.4" stroke-width="2.4"/>
<line x1="430.2" y1="224.2" x2="430.2" y2="225.4" stroke-width="2.4"/>
<line x1="444.5" y1="224.2" x2="444.5" y2="225.4" stroke-width="2.4"/>
<line x1="458.7" y1="224.2" x2="458.7" y2="225.4" stroke-width="2.4"/>
<line x1="472.9" y1="224.2" x2="472.9" y2="225.4" stroke-width="2.4"/>
<line x1="487.2" y1="224.2" x2="487.2" y2="225.4" stroke-width="2.4"/>
<line x1="501.4" y1="224.2" x2="501.4" y2="225.4" stroke-width="2.4"/>
<line x1="515.7" y1="224.2" x2="515.7" y2="225.4" stroke-width="2.4"/>
<line x1="529.9" y1="224.2" x2="529.9" y2="225.4" stroke-width="2.4"/>
<line x1="544.1" y1="224.2" x2="544.1" y2="225.4" stroke-width="2.4"/>
<line x1="558.4" y1="224.2" x2="558.4" y2="225.4" stroke-width="2.4"/>
<line x1="572.6" y1="224.2" x2="572.6" y2="225.4" stroke-width="2.4"/>
<line x1="586.9" y1="224.2" x2="586.9" y2="225.4" stroke-width="2.4"/>
<line x1="601.1" y1="224.2" x2="601.1" y2="225.4" stroke-width="2.4"/>
<line x1="615.3" y1="224.2" x2="615.3" y2="225.4" stroke-width="2.4"/>
<line x1="629.6" y1="224.2" x2="629.6" y2="225.4" stroke-width="2.4"/>
<line x1="643.8" y1="224.2" x2="643.8" y2="225.4" stroke-width="2.4"/>
<line x1="658.1" y1="224.2" x2="658.1" y2="225.4" stroke-width="2.4"/>
<line x1="672.3" y1="224.2" x2="672.3" y2="225.4" stroke-width="2.4"/>
<line x1="385.8" y1="223.3" x2="387" y2="223.3" stroke-width="2"/>
<line x1="385.8" y1="190.7" x2="387" y2="190.7" stroke-width="2"/>
<line x1="385.8" y1="158.0" x2="387" y2="158.0" stroke-width="2"/>
<line x1="385.8" y1="125.4" x2="387" y2="125.4" stroke-width="2"/>
<line x1="385.8" y1="92.8" x2="387" y2="92.8" stroke-width="2"/>
<line x1="385.8" y1="60.2" x2="387" y2="60.2" stroke-width="2"/>
</g>
<text x="381.3" y="63.4" font-size="8.9" font-weight="bold" text-anchor="end" >250</text>
<text x="381.3" y="95.2" font-size="8.9" font-weight="bold" text-anchor="end" >200</text>
<text x="381.3" y="126.3" font-size="8.9" font-weight="bold" text-anchor="end" >150</text>
<text x="381.3" y="159.5" font-size="8.9" font-weight="bold" text-anchor="end" >100</text>
<text x="383.9" y="190.8" font-size="8.9" font-weight="bold" text-anchor="end" >50</text>
<text x="384.3" y="221.8" font-size="8.9" font-weight="bold" text-anchor="end" >0</text>
<text x="394.3" y="235.5" font-size="8.8" font-weight="bold" text-anchor="middle" >1</text>
<text x="408.9" y="235.5" font-size="8.8" font-weight="bold" text-anchor="middle" >2</text>
<text x="423.9" y="235.5" font-size="8.8" font-weight="bold" text-anchor="middle" >3</text>
<text x="437.8" y="235.5" font-size="8.8" font-weight="bold" text-anchor="middle" >4</text>
<text x="452.4" y="235.5" font-size="8.8" font-weight="bold" text-anchor="middle" >5</text>
<text x="465.8" y="235.5" font-size="8.8" font-weight="bold" text-anchor="middle" >6</text>
<text x="481.2" y="235.5" font-size="8.8" font-weight="bold" text-anchor="middle" >7</text>
<text x="495.2" y="235.5" font-size="8.8" font-weight="bold" text-anchor="middle" >8</text>
<text x="507.8" y="235.5" font-size="8.8" font-weight="bold" text-anchor="middle" >9</text>
<text x="522.1" y="235.5" font-size="8.8" font-weight="bold" text-anchor="middle" >10</text>
<text x="536.6" y="235.5" font-size="8.8" font-weight="bold" text-anchor="middle" >11</text>
<text x="551.2" y="235.5" font-size="8.8" font-weight="bold" text-anchor="middle" >12</text>
<text x="565.2" y="235.5" font-size="8.8" font-weight="bold" text-anchor="middle" >13</text>
<text x="579.6" y="235.5" font-size="8.8" font-weight="bold" text-anchor="middle" >14</text>
<text x="594.1" y="235.5" font-size="8.8" font-weight="bold" text-anchor="middle" >15</text>
<text x="608.1" y="235.5" font-size="8.8" font-weight="bold" text-anchor="middle" >16</text>
<text x="622.1" y="235.5" font-size="8.8" font-weight="bold" text-anchor="middle" >17</text>
<text x="636.1" y="235.5" font-size="8.8" font-weight="bold" text-anchor="middle" >18</text>
<text x="650.1" y="235.5" font-size="8.8" font-weight="bold" text-anchor="middle" >19</text>
<text x="667.7" y="235.5" font-size="8.8" font-weight="bold" text-anchor="middle" >20</text>
<text x="466.6" y="254.1" font-size="11.4" font-weight="normal" text-anchor="start" >Biological processes</text>
<text transform="translate(359.3,136) rotate(-90)" font-size="11.55" text-anchor="middle">Number of genes involved</text>
<text transform="translate(358.6,33.9) scale(0.9346,1)" font-size="24.5" font-weight="bold" text-anchor="start" >D</text>
<rect x="416" y="36" width="9.5" height="11.5" fill="#4a8fd9"/>
<text x="429.4" y="45.6" font-size="11.3" font-weight="bold" text-anchor="start" >IgG</text>
<rect x="481.3" y="35.2" width="11" height="12" fill="#ee7428"/>
<text x="495.2" y="45.7" font-size="11.3" font-weight="bold" text-anchor="start" >dexamethasone</text>
<rect x="592.2" y="37.8" width="9.7" height="11.3" fill="#a0a0a0"/>
<text x="606.9" y="45.7" font-size="11.3" font-weight="bold">anti-<tspan font-style="italic">Vegf</tspan></text>
<text transform="translate(437.9,298.2) scale(0.93,1)" font-size="15.8" font-weight="normal" text-anchor="start" stroke="#000" stroke-width="0.15">Key</text>
<line x1="437.8" y1="301.6" x2="463.8" y2="301.6" stroke="#000" stroke-width="1"/>
<text transform="translate(388.8,318.7) scale(0.76,1)" font-size="11.5" font-weight="bold" text-anchor="start" stroke="#000" stroke-width="0.3">1</text>
<text transform="translate(405.5,320.9) scale(0.893,1)" font-size="14.2" font-weight="normal" text-anchor="start" stroke="#000" stroke-width="0.22">:Cell differentiation</text>
<text transform="translate(388.8,335.8) scale(0.76,1)" font-size="11.5" font-weight="bold" text-anchor="start" stroke="#000" stroke-width="0.3">2</text>
<text transform="translate(405.5,338.4) scale(0.893,1)" font-size="14.2" font-weight="normal" text-anchor="start" stroke="#000" stroke-width="0.22">:Regulation of apoptosis</text>
<text transform="translate(388.8,352.3) scale(0.76,1)" font-size="11.5" font-weight="bold" text-anchor="start" stroke="#000" stroke-width="0.3">3</text>
<text transform="translate(405.5,355.1) scale(0.893,1)" font-size="14.2" font-weight="normal" text-anchor="start" stroke="#000" stroke-width="0.22">:Cell adhesion</text>
<text transform="translate(388.8,368.8) scale(0.76,1)" font-size="11.5" font-weight="bold" text-anchor="start" stroke="#000" stroke-width="0.3">4</text>
<text transform="translate(405.5,371.8) scale(0.893,1)" font-size="14.2" font-weight="normal" text-anchor="start" stroke="#000" stroke-width="0.22">:Immune response</text>
<text transform="translate(388.8,383.09999999999997) scale(0.76,1)" font-size="11.5" font-weight="bold" text-anchor="start" stroke="#000" stroke-width="0.3">5</text>
<text transform="translate(405.5,386.3) scale(0.893,1)" font-size="14.2" font-weight="normal" text-anchor="start" stroke="#000" stroke-width="0.22">:Inflammatory response</text>
<text transform="translate(388.8,399.9) scale(0.76,1)" font-size="11.5" font-weight="bold" text-anchor="start" stroke="#000" stroke-width="0.3">6</text>
<text transform="translate(405.5,402) scale(0.893,1)" font-size="14.2" font-weight="normal" text-anchor="start" stroke="#000" stroke-width="0.22">:Cell migration</text>
<text transform="translate(388.8,416.7) scale(0.76,1)" font-size="11.5" font-weight="bold" text-anchor="start" stroke="#000" stroke-width="0.3">7</text>
<text transform="translate(405.5,417.4) scale(0.893,1)" font-size="14.2" font-weight="normal" text-anchor="start" stroke="#000" stroke-width="0.22">:Vasculature development</text>
<text transform="translate(388.8,433.4) scale(0.76,1)" font-size="11.5" font-weight="bold" text-anchor="start" stroke="#000" stroke-width="0.3">8</text>
<text transform="translate(405.5,435) scale(0.893,1)" font-size="14.2" font-weight="normal" text-anchor="start" stroke="#000" stroke-width="0.22">:Blood vessel development</text>
<text transform="translate(388.8,448.5) scale(0.76,1)" font-size="11.5" font-weight="bold" text-anchor="start" stroke="#000" stroke-width="0.3">9</text>
<text transform="translate(405.5,451.0) scale(0.893,1)" font-size="14.2" font-weight="normal" text-anchor="start" stroke="#000" stroke-width="0.22">:Blood vessel morphogenesis</text>
<text transform="translate(388.8,465.0) scale(0.76,1)" font-size="11.5" font-weight="bold" text-anchor="start" stroke="#000" stroke-width="0.3">10</text>
<text transform="translate(407.0,465.6) scale(0.893,1)" font-size="14.2" font-weight="normal" text-anchor="start" stroke="#000" stroke-width="0.22">:Leukocyte activation</text>
<text transform="translate(388.8,482.09999999999997) scale(0.76,1)" font-size="11.5" font-weight="bold" text-anchor="start" stroke="#000" stroke-width="0.3">11</text>
<text transform="translate(408.0,482.3) scale(0.893,1)" font-size="14.2" font-weight="normal" text-anchor="start" stroke="#000" stroke-width="0.22">:Angiogenesis</text>
<text transform="translate(388.8,499.09999999999997) scale(0.76,1)" font-size="11.5" font-weight="bold" text-anchor="start" stroke="#000" stroke-width="0.3">12</text>
<text transform="translate(408.0,498.6) scale(0.893,1)" font-size="14.2" font-weight="normal" text-anchor="start" stroke="#000" stroke-width="0.22">:Innate immune response</text>
<text transform="translate(388.8,512.7) scale(0.76,1)" font-size="11.5" font-weight="bold" text-anchor="start" stroke="#000" stroke-width="0.3">13</text>
<text transform="translate(408.0,513) scale(0.893,1)" font-size="14.2" font-weight="normal" text-anchor="start" stroke="#000" stroke-width="0.22">:Leukocyte migration</text>
<text transform="translate(388.8,529.9000000000001) scale(0.76,1)" font-size="11.5" font-weight="bold" text-anchor="start" stroke="#000" stroke-width="0.3">14</text>
<text transform="translate(410.20000000000005,530) scale(0.893,1)" font-size="14.2" font-weight="normal" text-anchor="start" stroke="#000" stroke-width="0.22">:Regulation of angiogenesis</text>
<text transform="translate(388.8,546.5) scale(0.76,1)" font-size="11.5" font-weight="bold" text-anchor="start" stroke="#000" stroke-width="0.3">15</text>
<text transform="translate(410.20000000000005,545.6) scale(0.893,1)" font-size="14.2" font-weight="normal" text-anchor="start" stroke="#000" stroke-width="0.22">:Leukocyte chemotaxis</text>
<text transform="translate(388.8,563.7) scale(0.76,1)" font-size="11.5" font-weight="bold" text-anchor="start" stroke="#000" stroke-width="0.3">16</text>
<text transform="translate(409.90000000000003,563.5) scale(0.893,1)" font-size="14.2" font-weight="normal" text-anchor="start" stroke="#000" stroke-width="0.22">:Lymphocyte mediated immunity</text>
<text transform="translate(388.8,577.8000000000001) scale(0.76,1)" font-size="11.5" font-weight="bold" text-anchor="start" stroke="#000" stroke-width="0.3">17</text>
<text transform="translate(409.90000000000003,576.9) scale(0.893,1)" font-size="14.2" font-weight="normal" text-anchor="start" stroke="#000" stroke-width="0.22">:Regulation of leukocyte mediated..</text>
<text transform="translate(388.8,594.1) scale(0.76,1)" font-size="11.5" font-weight="bold" text-anchor="start" stroke="#000" stroke-width="0.3">18</text>
<text transform="translate(409.90000000000003,593.1) scale(0.893,1)" font-size="14.2" font-weight="normal" text-anchor="start" stroke="#000" stroke-width="0.22">:Regulation of interleukin-6 prdtn</text>
<text transform="translate(388.8,609.6) scale(0.76,1)" font-size="11.5" font-weight="bold" text-anchor="start" stroke="#000" stroke-width="0.3">19</text>
<text transform="translate(409.90000000000003,609.4) scale(0.893,1)" font-size="14.2" font-weight="normal" text-anchor="start" stroke="#000" stroke-width="0.22">:+ve reg.of endothelial cell prolif</text>
<text transform="translate(388.8,625.9000000000001) scale(0.76,1)" font-size="11.5" font-weight="bold" text-anchor="start" stroke="#000" stroke-width="0.3">20</text>
<text transform="translate(409.90000000000003,625) scale(0.893,1)" font-size="14.2" font-weight="normal" text-anchor="start" stroke="#000" stroke-width="0.22">:Macrophage activation</text>
</svg></body></html>
